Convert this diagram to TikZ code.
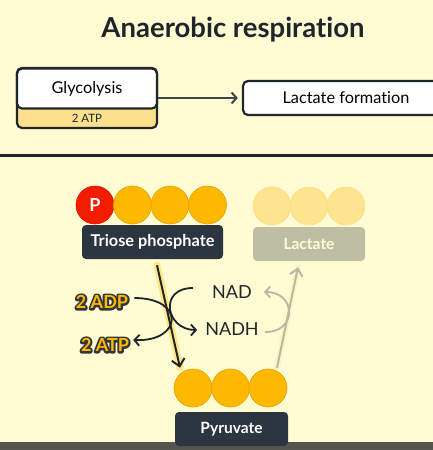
\documentclass[tikz,border=0pt]{standalone}
\usepackage{fontspec}
\setmainfont{Lato}[Ligatures=NoCommon, Contextuals=NoAlternate]
\usetikzlibrary{arrows.meta,calc}
\definecolor{cream}{HTML}{FFFBD3}
\definecolor{ink}{HTML}{1F252B}
\definecolor{slate}{HTML}{2C3641}
\definecolor{amber}{HTML}{FFB800}
\definecolor{amberedge}{HTML}{E3A200}
\definecolor{paleamber}{HTML}{FDE48F}
\definecolor{ashbox}{HTML}{BDBEA4}
\definecolor{ashline}{HTML}{B9B8A6}
\definecolor{stripe}{HTML}{FDE08C}
\definecolor{pred}{HTML}{F41C00}
\definecolor{barcol}{HTML}{55554F}
\definecolor{glow}{HTML}{FFD84A}
% dark halo behind the yellow energy labels
\newcommand{\haloed}[1]{\rlap{\special{pdf:literal 2 Tr 4 w 1 j 0.2 0.21 0.22 RG 0.2 0.21 0.22 rg}#1\special{pdf:literal 0 Tr}}\textcolor{amber}{#1}}
\tikzset{
  carbon/.style={circle, fill=amber, draw=amberedge, line width=0.6pt, minimum size=38pt, inner sep=0pt},
  palecarbon/.style={circle, fill=paleamber, draw=paleamber!90!amberedge, line width=0.5pt, minimum size=38pt, inner sep=0pt},
  namebox/.style={rectangle, rounded corners=4pt, fill=slate, text=white, font=\fontsize{15.5}{17}\selectfont\bfseries, minimum height=34pt, inner sep=0pt},
  stagebox/.style={rectangle, rounded corners=5pt, draw=ink, line width=2.2pt, fill=white, minimum height=34pt, inner sep=0pt},
  tip/.style={-{Straight Barb[length=5pt,width=11pt]}},
  bigtip/.style={-{Straight Barb[length=7pt,width=13pt]}},
  cofactor/.style={font=\fontsize{18}{20}\selectfont, inner sep=1pt},
  energy/.style={font=\fontsize{18}{20}\selectfont\bfseries, inner sep=1pt}
}
\begin{document}
\begin{tikzpicture}[x=1pt, y=-1pt]
		% Background and frame:
		\useasboundingbox (0,0) rectangle (433,450);
		\fill[cream] (0,0) rectangle (433,450);
		\draw[ink, line width=3pt] (0,155) -- (433,155);
		\fill[barcol] (0,442) rectangle (433,450);
		\node[font=\fontsize{27.5}{30}\selectfont\bfseries, text=ink] (title) at (233,30) {Anaerobic respiration};
		% Overview boxes:
		\node[stagebox, fill=stripe, minimum width=140pt, minimum height=60pt] (glycbase) at (87,98) {};
		\node[stagebox, minimum width=140pt, minimum height=40pt, font=\fontsize{16.3}{18}\selectfont] (glyc) at (87,88.5) {Glycolysis};
		\node[font=\fontsize{11.5}{13}\selectfont, text=ink] (twoatp) at (87,118.5) {2 ATP};
		\node[stagebox, minimum width=206pt, font=\fontsize{16.3}{18}\selectfont] (lacform) at (346,98) {Lactate formation};
		\draw[tip, ink!85, line width=2pt, shorten >=4pt] (glycbase.east) -- (glycbase.east -| lacform.west);
		% Triose phosphate:
		\node[carbon, fill=pred, draw=pred!90!black, text=white, font=\fontsize{18}{18}\selectfont\bfseries] (tp0) at (95,205) {P};
		\node[carbon] (tp1) at (132.5,205) {};
		\node[carbon] (tp2) at (170,205) {};
		\node[carbon] (tp3) at (207.5,205) {};
		\node[namebox, minimum width=141pt, font=\fontsize{16.3}{18}\selectfont\bfseries] (triose) at (152.5,242) {Triose phosphate};
		% Lactate (faded):
		\node[palecarbon] (la1) at (272,206) {};
		\node[palecarbon] (la2) at (309,206) {};
		\node[palecarbon] (la3) at (346,206) {};
		\node[namebox, fill=ashbox, text=cream!90!white, minimum width=112pt] (lact) at (309,244) {Lactate};
		% Pyruvate:
		\node[carbon] (py1) at (193,388) {};
		\node[carbon] (py2) at (230.5,388) {};
		\node[carbon] (py3) at (268,388) {};
		\node[namebox, minimum width=113pt] (pyr) at (231.5,429) {Pyruvate};
		% Cofactors:
		\node[cofactor, text=ink] (nad) at (232,292) {NAD};
		\node[cofactor, text=ink] (nadh) at (232,329) {NADH};
		\node[energy] (adp) at (102,302) {\haloed{2 ADP}};
		\node[energy] (atp) at (105,345) {\haloed{2 ATP}};
		% Main arrows with glow:
		\draw[glow, opacity=0.55, line width=7pt, line cap=round] ($(triose.south)+(4.5,6)$) -- ($(py1.north)+(-13,-1)$);
		\draw[glow!40, opacity=0.6, line width=6pt, line cap=round] ($(py3.north)+(9,-1)$) -- ($(lact.south)+(-11,6)$);
		\draw[bigtip, ink, line width=2pt] ($(triose.south)+(4.5,6)$) -- ($(py1.north)+(-13,-1)$);
		\draw[bigtip, ashline, line width=2pt] ($(py3.north)+(9,-1)$) -- ($(lact.south)+(-11,6)$);
		% Side reactions:
		\draw[tip, ink, line width=1.8pt] ($(adp.east)+(5,-4)$) .. controls (186,298) and (182,342) .. ($(atp.east)+(3,-5)$);
		\draw[tip, ink, line width=1.8pt] ($(nad.west)+(-18,-4)$) .. controls (158,288) and (166,330) .. ($(nadh.west)+(-7,1)$);
		\draw[tip, ashline, line width=1.8pt] ($(nadh.east)+(5,3)$) .. controls (297,333) and (297,292) .. ($(nad.east)+(11,0)$);
	\end{tikzpicture}
\end{document}
